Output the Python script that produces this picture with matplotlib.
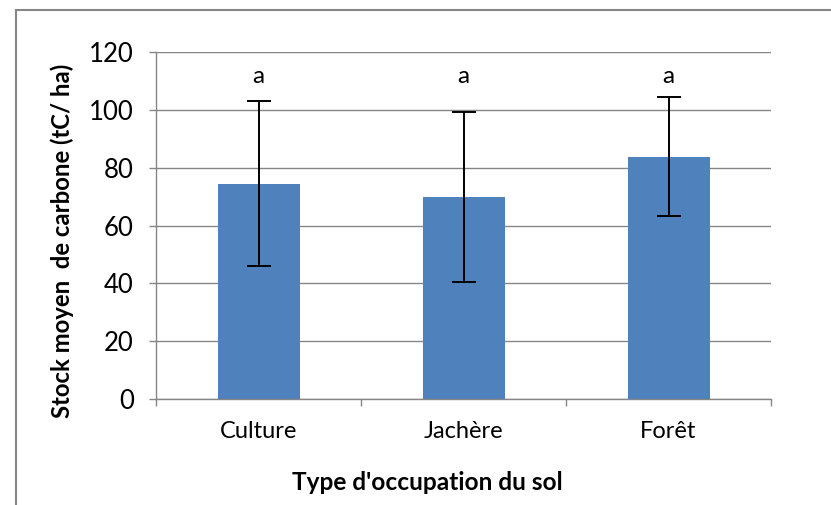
import matplotlib.pyplot as plt
import matplotlib.patches as mpatches
import numpy as np

plt.rcParams['font.family'] = ['Lato', 'DejaVu Sans']

categories = ['Culture', 'Jachère', 'Forêt']
stock = [74.5, 69.9, 83.8]
erreur = [28.5, 29.5, 20.6]
lettres = ['a', 'a', 'a']

gris = '#868686'
fig = plt.figure(figsize=(8.31, 5.05), dpi=100)
ax = fig.add_axes([156 / 831, 1 - 399 / 505, 615 / 831, 347 / 505])

x = np.arange(len(categories))
ax.bar(x, stock, width=0.4, color='#4F81BD', zorder=2)
ax.errorbar(x, stock, yerr=erreur, fmt='none', ecolor='black',
            elinewidth=1.4, capsize=8.5, capthick=1.4, zorder=3)
for xi, l in zip(x, lettres):
    ax.text(xi, 111.5, l, ha='center', va='center', fontsize=17.5)

ax.set_xlim(-0.5, 2.5)
ax.set_ylim(0, 120)
ax.set_yticks(np.arange(0, 121, 20))
ax.set_xticks(x)
ax.set_xticklabels(categories)
ax.set_xticks([-0.5, 0.5, 1.5, 2.5], minor=True)
ax.tick_params(axis='x', which='major', length=0, pad=16, labelsize=17)
ax.tick_params(axis='x', which='minor', length=5, color=gris, width=1)
ax.tick_params(axis='y', length=5, color=gris, width=1, labelsize=18.5, pad=11)
ax.grid(axis='y', color=gris, linewidth=1, zorder=0)
ax.set_axisbelow(True)
for s in ['top', 'right']:
    ax.spines[s].set_visible(False)
for s in ['left', 'bottom']:
    ax.spines[s].set_color(gris)
    ax.spines[s].set_linewidth(1)

fig.text(62 / 831, 1 - 241 / 505, 'Stock moyen  de carbone (tC/ ha)',
         fontsize=17.2, fontweight='bold', rotation=90,
         ha='center', va='center')
fig.text(427.5 / 831, 1 - 483 / 505, "Type d'occupation du sol",
         fontsize=17.6, fontweight='bold', ha='center', va='center')

cadre = mpatches.Rectangle((16 / 831, -0.1), 1.2, 1 - 10 / 505 + 0.1,
                           transform=fig.transFigure, fill=False,
                           edgecolor=gris, linewidth=1.5, clip_on=False)
fig.add_artist(cadre)

fig.savefig('out.png', dpi=100)
